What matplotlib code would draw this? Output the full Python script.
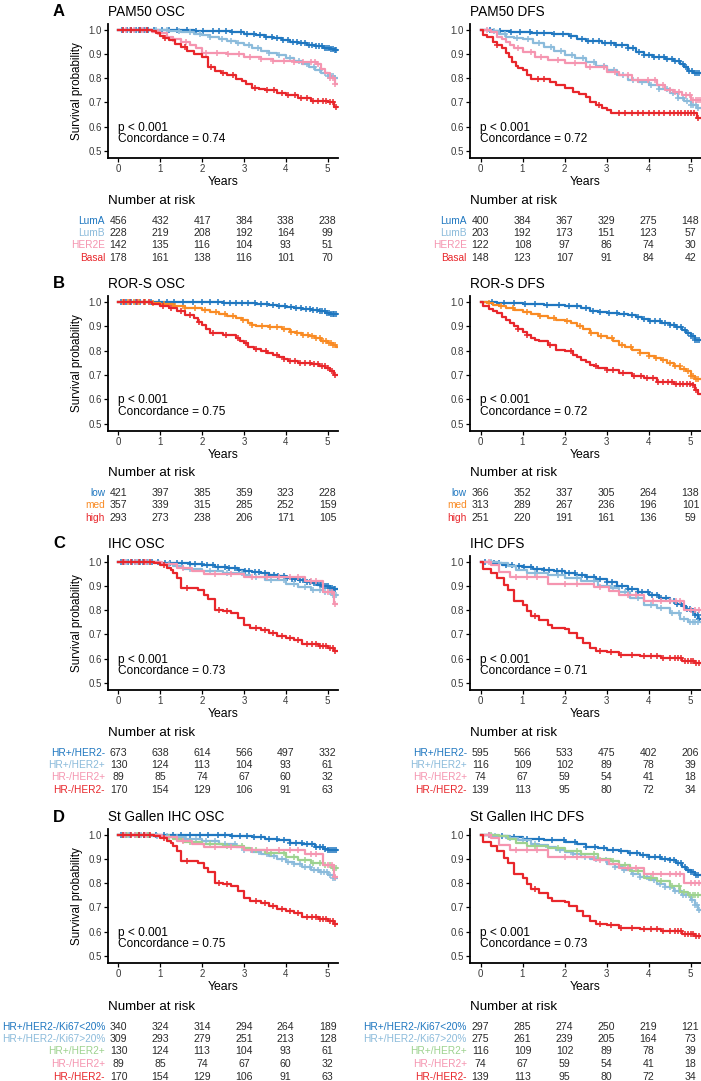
import numpy as np
import matplotlib
matplotlib.use("Agg")
import matplotlib.pyplot as plt
from matplotlib.transforms import blended_transform_factory

plt.rcParams['font.family'] = ['Liberation Sans', 'DejaVu Sans']

W, H = 701, 1081

c_dblue = "#1f77c0"
c_lblue = "#8bbbdb"
c_pink = "#f595b0"
c_red = "#e8262b"
c_orange = "#f98b24"
c_green = "#9dd28f"

years = [0, 1, 2, 3, 4, 5]
yticks = [0.5, 0.6, 0.7, 0.8, 0.9, 1.0]

# ---------------- A: PAM50 ----------------
labels_pam50 = ["LumA", "LumB", "HER2E", "Basal"]
risk_pam50_osc = [[456, 432, 417, 384, 338, 238], [228, 219, 208, 192, 164, 99],
                  [142, 135, 116, 104, 93, 51], [178, 161, 138, 116, 101, 70]]
risk_pam50_dfs = [[400, 384, 367, 329, 275, 148], [203, 192, 173, 151, 123, 57],
                  [122, 108, 97, 86, 74, 30], [148, 123, 107, 91, 84, 42]]

luma_osc_t = [1.8, 2.3, 2.7, 3.0, 3.3, 3.5, 3.7, 3.9, 4.1, 4.3, 4.5, 4.7, 4.9, 5.05, 5.15]
luma_osc_s = [0.998, 0.995, 0.99, 0.985, 0.978, 0.972, 0.965, 0.958, 0.952, 0.945, 0.938, 0.932, 0.926, 0.921, 0.917]
luma_osc_c = [0.08, 0.2, 0.31, 0.42, 0.5, 0.61, 0.7, 0.86, 1.05, 1.22, 1.4, 1.63, 1.85, 2.02, 2.26, 2.41, 2.58, 2.71,
              2.93, 3.08, 3.24, 3.39, 3.52, 3.66, 3.8, 3.93, 4.06, 4.18, 4.27, 4.36, 4.47, 4.55, 4.63, 4.72, 4.8,
              4.86, 4.93, 4.98, 5.04, 5.09, 5.13, 5.17, 5.2]
lumb_osc_t = [1.2, 1.5, 1.8, 2.0, 2.2, 2.4, 2.6, 2.8, 3.0, 3.2, 3.4, 3.6, 3.8, 4.0, 4.2, 4.4, 4.55, 4.7, 4.85, 5.0, 5.15]
lumb_osc_s = [0.997, 0.992, 0.985, 0.979, 0.972, 0.964, 0.956, 0.947, 0.937, 0.925, 0.912, 0.903, 0.895, 0.883,
              0.872, 0.86, 0.848, 0.835, 0.822, 0.81, 0.80]
lumb_osc_c = [0.12, 0.27, 0.4, 0.53, 0.66, 0.9, 1.17, 1.44, 1.71, 1.96, 2.2, 2.47, 2.68, 2.86, 3.12, 3.33, 3.6,
              3.84, 4.1, 4.32, 4.51, 4.68, 4.83, 4.95, 5.02, 5.08, 5.14, 5.19]
her2e_osc_t = [0.8, 1.0, 1.15, 1.3, 1.5, 1.7, 1.85, 2.0, 2.6, 3.0, 3.4, 3.7, 4.2, 4.75, 4.85, 4.95, 5.05, 5.18]
her2e_osc_s = [0.993, 0.986, 0.972, 0.961, 0.951, 0.937, 0.924, 0.906, 0.9, 0.889, 0.879, 0.872, 0.866, 0.858,
               0.84, 0.822, 0.803, 0.775]
her2e_osc_c = [0.18, 0.36, 0.58, 0.95, 1.3, 1.62, 2.1, 2.35, 2.62, 2.88, 3.15, 3.42, 3.7, 3.95, 4.2, 4.42, 4.6,
               4.7, 4.78, 5.06, 5.12, 5.18]
basal_osc_t = [0.8, 0.9, 1.0, 1.1, 1.2, 1.35, 1.5, 1.65, 1.8, 2.0, 2.15, 2.3, 2.45, 2.6, 2.8, 2.95, 3.05, 3.2, 3.35,
               3.5, 3.8, 4.0, 4.3, 4.6, 5.0, 5.15]
basal_osc_s = [0.994, 0.986, 0.975, 0.966, 0.958, 0.944, 0.931, 0.915, 0.899, 0.889, 0.847, 0.831, 0.822, 0.813,
               0.799, 0.789, 0.778, 0.761, 0.755, 0.75, 0.739, 0.729, 0.719, 0.708, 0.70, 0.683]
basal_osc_c = [0.1, 0.3, 0.52, 0.68, 1.11, 1.58, 2.22, 2.5, 2.73, 3.27, 3.55, 3.72, 3.9, 4.05, 4.22, 4.37, 4.52,
               4.66, 4.76, 4.88, 4.97, 5.07, 5.14, 5.2]

luma_dfs_t = [0.3, 0.7, 1.2, 1.7, 2.1, 2.3, 2.5, 2.9, 3.2, 3.5, 3.7, 3.9, 4.1, 4.4, 4.6, 4.75, 4.85, 4.95, 5.05]
luma_dfs_s = [0.997, 0.992, 0.987, 0.982, 0.975, 0.963, 0.953, 0.948, 0.936, 0.924, 0.91, 0.897, 0.887, 0.88,
              0.872, 0.86, 0.848, 0.832, 0.82]
luma_dfs_c = [0.22, 0.47, 0.73, 0.95, 1.18, 1.35, 1.52, 1.76, 1.97, 2.16, 2.42, 2.55, 2.68, 2.82, 2.97, 3.1, 3.22,
              3.38, 3.5, 3.63, 3.77, 3.9, 4.02, 4.13, 4.25, 4.36, 4.45, 4.55, 4.64, 4.73, 4.82, 4.9, 4.97, 5.04,
              5.1, 5.16, 5.21]
lumb_dfs_t = [0.2, 0.45, 0.6, 0.8, 1.0, 1.25, 1.5, 1.75, 2.0, 2.25, 2.5, 2.75, 3.0, 3.25, 3.5, 3.75, 4.0, 4.25,
              4.5, 4.7, 4.85, 5.0, 5.15]
lumb_dfs_s = [0.997, 0.985, 0.972, 0.966, 0.961, 0.946, 0.931, 0.914, 0.897, 0.883, 0.869, 0.852, 0.835, 0.814,
              0.793, 0.783, 0.773, 0.755, 0.738, 0.72, 0.705, 0.69, 0.676]
lumb_dfs_c = [0.33, 0.58, 0.87, 1.12, 1.4, 1.67, 1.92, 2.18, 2.45, 2.7, 2.93, 3.17, 3.4, 3.62, 3.85, 4.05, 4.25,
              4.43, 4.58, 4.7, 4.82, 4.92, 5.0, 5.07, 5.13, 5.19]
her2e_dfs_t = [0.25, 0.4, 0.5, 0.6, 0.7, 0.8, 1.0, 1.3, 1.6, 2.0, 2.5, 3.0, 3.3, 3.6, 4.2, 4.4, 4.6, 4.8, 5.0]
her2e_dfs_s = [0.99, 0.972, 0.962, 0.952, 0.938, 0.924, 0.91, 0.89, 0.876, 0.862, 0.848, 0.828, 0.814, 0.793,
               0.773, 0.752, 0.745, 0.731, 0.711]
her2e_dfs_c = [0.15, 0.9, 1.2, 1.45, 1.85, 2.25, 2.6, 2.95, 3.2, 3.5, 3.75, 3.98, 4.15, 4.35, 4.52, 4.63, 4.72,
               4.9, 4.98, 5.06, 5.12, 5.18, 5.22]
basal_dfs_t = [0.05, 0.15, 0.3, 0.4, 0.5, 0.6, 0.68, 0.75, 0.85, 0.9, 1.0, 1.1, 1.2, 1.65, 1.8, 2.0, 2.2, 2.35,
               2.5, 2.6, 2.75, 2.9, 3.0, 3.1, 5.15]
basal_dfs_s = [0.98, 0.972, 0.952, 0.938, 0.924, 0.904, 0.89, 0.869, 0.85, 0.842, 0.835, 0.814, 0.797, 0.786,
               0.773, 0.759, 0.745, 0.735, 0.724, 0.704, 0.69, 0.676, 0.669, 0.655, 0.635]
basal_dfs_c = [0.4, 1.36, 1.5, 2.82, 3.3, 3.45, 3.6, 3.75, 3.88, 4.0, 4.12, 4.25, 4.38, 4.5, 4.6, 4.7, 4.78, 4.86,
               4.93, 5.0, 5.08, 5.18]

# ---------------- B: ROR-S ----------------
labels_ror = ["low", "med", "high"]
risk_ror_osc = [[421, 397, 385, 359, 323, 228], [357, 339, 315, 285, 252, 159], [293, 273, 238, 206, 171, 105]]
risk_ror_dfs = [[366, 352, 337, 305, 264, 138], [313, 289, 267, 236, 196, 101], [251, 220, 191, 161, 136, 59]]

low_osc_t = [2.5, 2.9, 3.3, 3.6, 3.8, 4.0, 4.2, 4.4, 4.6, 4.8, 4.95, 5.05]
low_osc_s = [0.998, 0.996, 0.992, 0.988, 0.985, 0.979, 0.975, 0.971, 0.966, 0.962, 0.956, 0.952]
low_osc_c = [0.07, 0.19, 0.3, 0.41, 0.52, 0.63, 0.78, 0.97, 1.15, 1.33, 1.55, 1.78, 2.0, 2.19, 2.37, 2.52, 2.66,
             2.8, 2.95, 3.1, 3.26, 3.41, 3.56, 3.7, 3.85, 3.98, 4.12, 4.25, 4.37, 4.48, 4.57, 4.66, 4.74, 4.81,
             4.87, 4.93, 4.98, 5.03, 5.08, 5.12, 5.16, 5.2]
med_osc_t = [0.8, 1.0, 1.3, 1.6, 2.0, 2.2, 2.4, 2.6, 2.8, 2.95, 3.1, 3.2, 3.3, 3.6, 3.9, 4.1, 4.25, 4.4, 4.55,
             4.7, 4.85, 5.0, 5.12, 5.2]
med_osc_s = [0.996, 0.992, 0.982, 0.975, 0.968, 0.96, 0.952, 0.941, 0.933, 0.927, 0.914, 0.905, 0.9, 0.897, 0.889,
             0.879, 0.873, 0.866, 0.859, 0.852, 0.842, 0.832, 0.822, 0.815]
med_osc_c = [0.1, 0.24, 0.37, 0.5, 0.64, 0.83, 1.08, 1.35, 1.6, 1.82, 2.08, 2.34, 2.55, 2.75, 2.98, 3.2, 3.43,
             3.62, 3.8, 3.96, 4.12, 4.28, 4.41, 4.53, 4.64, 4.73, 4.82, 4.9, 4.97, 5.03, 5.09, 5.14, 5.19]
high_osc_t = [0.8, 1.0, 1.2, 1.4, 1.6, 1.8, 1.9, 2.0, 2.1, 2.2, 2.5, 2.8, 2.9, 3.0, 3.1, 3.25, 3.4, 3.55, 3.7,
              3.85, 3.95, 4.05, 4.3, 4.6, 4.8, 4.95, 5.05, 5.15]
high_osc_s = [0.994, 0.985, 0.975, 0.962, 0.948, 0.934, 0.92, 0.907, 0.889, 0.873, 0.866, 0.852, 0.842, 0.832,
              0.815, 0.806, 0.797, 0.79, 0.784, 0.775, 0.765, 0.756, 0.749, 0.745, 0.736, 0.728, 0.718, 0.701]
high_osc_c = [0.13, 0.28, 0.45, 0.6, 0.72, 1.06, 1.25, 1.5, 1.72, 1.93, 2.27, 2.58, 2.85, 3.05, 3.3, 3.52, 3.78,
              3.95, 4.1, 4.22, 4.35, 4.47, 4.58, 4.68, 4.77, 4.86, 4.94, 5.02, 5.1, 5.17]

low_dfs_t = [0.4, 1.0, 1.5, 2.0, 2.4, 2.6, 2.8, 3.0, 3.3, 3.5, 3.7, 3.85, 4.0, 4.3, 4.5, 4.65, 4.8, 4.9, 5.0, 5.1]
low_dfs_s = [0.996, 0.992, 0.989, 0.985, 0.975, 0.964, 0.96, 0.956, 0.952, 0.948, 0.94, 0.93, 0.921, 0.914, 0.907,
             0.898, 0.885, 0.872, 0.859, 0.846]
low_dfs_c = [0.28, 0.55, 0.8, 1.05, 1.3, 1.58, 1.86, 2.1, 2.3, 2.5, 2.68, 2.85, 3.05, 3.25, 3.42, 3.6, 3.76, 3.9,
             4.03, 4.16, 4.28, 4.39, 4.5, 4.6, 4.69, 4.78, 4.86, 4.93, 5.0, 5.06, 5.11, 5.16, 5.21]
med_dfs_t = [0.15, 0.3, 0.45, 0.6, 0.8, 1.0, 1.2, 1.4, 1.6, 1.8, 2.0, 2.15, 2.3, 2.45, 2.6, 2.8, 3.0, 3.15, 3.3,
             3.45, 3.6, 3.8, 4.0, 4.15, 4.3, 4.45, 4.6, 4.75, 4.9, 5.0, 5.1]
med_dfs_s = [0.996, 0.99, 0.983, 0.975, 0.966, 0.958, 0.95, 0.943, 0.934, 0.928, 0.921, 0.912, 0.9, 0.888, 0.873,
             0.862, 0.852, 0.838, 0.825, 0.815, 0.804, 0.792, 0.779, 0.771, 0.763, 0.75, 0.736, 0.726, 0.715,
             0.697, 0.684]
med_dfs_c = [0.2, 0.48, 0.77, 1.1, 1.42, 1.75, 2.05, 2.38, 2.62, 2.88, 3.12, 3.36, 3.58, 3.8, 4.0, 4.18, 4.35,
             4.5, 4.63, 4.74, 4.84, 4.93, 5.0, 5.07, 5.13, 5.19]
high_dfs_t = [0.05, 0.2, 0.3, 0.4, 0.5, 0.6, 0.7, 0.8, 0.9, 1.0, 1.1, 1.2, 1.3, 1.4, 1.6, 1.8, 2.0, 2.2, 2.3, 2.4,
              2.5, 2.6, 2.7, 2.8, 3.0, 3.3, 3.6, 3.9, 4.2, 4.6, 5.05, 5.1, 5.18]
high_dfs_s = [0.982, 0.971, 0.963, 0.955, 0.94, 0.927, 0.913, 0.9, 0.89, 0.879, 0.866, 0.852, 0.845, 0.838, 0.825,
              0.804, 0.797, 0.784, 0.774, 0.763, 0.753, 0.743, 0.736, 0.729, 0.719, 0.708, 0.695, 0.688, 0.67,
              0.665, 0.658, 0.64, 0.623]
high_dfs_c = [0.9, 1.1, 1.65, 2.15, 2.75, 3.0, 3.15, 3.4, 3.65, 3.82, 3.97, 4.1, 4.23, 4.35, 4.46, 4.56, 4.65,
              4.74, 4.83, 4.91, 4.98, 5.06, 5.14]

# ---------------- C: IHC ----------------
labels_ihc = ["HR+/HER2-", "HR+/HER2+", "HR-/HER2+", "HR-/HER2-"]
risk_ihc_osc = [[673, 638, 614, 566, 497, 332], [130, 124, 113, 104, 93, 61],
                [89, 85, 74, 67, 60, 32], [170, 154, 129, 106, 91, 63]]
risk_ihc_dfs = [[595, 566, 533, 475, 402, 206], [116, 109, 102, 89, 78, 39],
                [74, 67, 59, 54, 41, 18], [139, 113, 95, 80, 72, 34]]

pn_osc_t = [1.0, 1.4, 1.7, 2.0, 2.3, 2.6, 2.85, 3.0, 3.2, 3.4, 3.6, 3.8, 4.0, 4.15, 4.3, 4.45, 4.6, 4.75, 4.9,
            5.05, 5.15]
pn_osc_s = [0.998, 0.995, 0.991, 0.986, 0.981, 0.975, 0.968, 0.961, 0.957, 0.953, 0.948, 0.941, 0.934, 0.929,
            0.924, 0.918, 0.913, 0.906, 0.9, 0.893, 0.887]
pn_osc_c = [0.05, 0.14, 0.24, 0.33, 0.4, 0.51, 0.58, 0.69, 0.81, 0.94, 1.12, 1.24, 1.41, 1.53, 1.71, 1.83, 1.99,
            2.11, 2.27, 2.38, 2.54, 2.65, 2.79, 2.89, 3.03, 3.13, 3.27, 3.37, 3.51, 3.6, 3.73, 3.82, 3.95, 4.03,
            4.15, 4.23, 4.34, 4.41, 4.51, 4.57, 4.67, 4.72, 4.81, 4.85, 4.92, 4.96, 5.02, 5.06, 5.11, 5.15, 5.19]
pp_osc_t = [1.0, 1.3, 1.55, 2.0, 2.5, 3.0, 3.15, 3.5, 4.0, 4.3, 4.6, 4.9, 5.1]
pp_osc_s = [0.993, 0.983, 0.972, 0.962, 0.956, 0.948, 0.937, 0.926, 0.91, 0.896, 0.884, 0.875, 0.865]
pp_osc_c = [0.2, 0.45, 0.7, 1.2, 1.7, 2.2, 2.6, 2.95, 3.3, 3.65, 3.95, 4.2, 4.45, 4.65, 4.82, 4.95, 5.05, 5.13, 5.2]
np_osc_t = [1.05, 1.4, 1.75, 2.05, 3.0, 4.45, 4.9, 5.15]
np_osc_s = [0.99, 0.975, 0.962, 0.952, 0.94, 0.923, 0.876, 0.828]
np_osc_c = [0.15, 0.4, 0.65, 1.55, 2.3, 2.7, 3.2, 3.55, 3.85, 4.1, 4.3, 4.6, 4.72, 5.0, 5.1, 5.19]
nn_osc_t = [0.85, 1.0, 1.15, 1.25, 1.3, 1.4, 1.5, 1.9, 2.05, 2.15, 2.3, 2.5, 2.7, 2.85, 3.0, 3.15, 3.4, 3.6, 3.8,
            4.0, 4.2, 4.4, 4.8, 5.0, 5.15]
nn_osc_s = [0.994, 0.989, 0.975, 0.965, 0.955, 0.934, 0.893, 0.886, 0.865, 0.845, 0.803, 0.799, 0.79, 0.769, 0.741,
            0.727, 0.718, 0.707, 0.693, 0.686, 0.679, 0.662, 0.654, 0.645, 0.631]
nn_osc_c = [0.12, 0.3, 0.48, 0.62, 0.75, 1.08, 1.65, 2.4, 2.6, 3.3, 3.5, 3.7, 3.92, 4.1, 4.3, 4.5, 4.62, 4.72,
            4.82, 4.9, 4.97, 5.05, 5.12, 5.19]

pn_dfs_t = [0.3, 0.5, 0.75, 1.0, 1.25, 1.5, 1.75, 2.0, 2.25, 2.5, 2.75, 3.0, 3.25, 3.5, 3.75, 4.0, 4.25, 4.5, 4.65,
            4.8, 4.9, 5.0, 5.1, 5.18]
pn_dfs_s = [0.998, 0.989, 0.984, 0.979, 0.972, 0.966, 0.961, 0.955, 0.946, 0.938, 0.928, 0.916, 0.902, 0.888,
            0.877, 0.865, 0.851, 0.837, 0.827, 0.817, 0.806, 0.796, 0.78, 0.765]
pn_dfs_c = [0.1, 0.31, 0.44, 0.61, 0.74, 0.92, 1.04, 1.21, 1.34, 1.52, 1.64, 1.81, 1.94, 2.11, 2.24, 2.41, 2.54,
            2.71, 2.84, 3.01, 3.12, 3.26, 3.36, 3.51, 3.61, 3.75, 3.85, 3.99, 4.09, 4.21, 4.3, 4.41, 4.5, 4.61,
            4.68, 4.77, 4.84, 4.91, 4.98, 5.05, 5.11, 5.17, 5.21]
pp_dfs_t = [0.45, 0.65, 0.85, 1.1, 1.6, 2.0, 2.4, 2.8, 3.1, 3.3, 3.55, 3.9, 4.2, 4.5, 4.75, 4.95]
pp_dfs_s = [0.995, 0.982, 0.968, 0.955, 0.946, 0.935, 0.922, 0.9, 0.893, 0.875, 0.85, 0.822, 0.81, 0.787, 0.765,
            0.753]
pp_dfs_c = [0.25, 1.3, 1.85, 2.3, 2.7, 3.15, 3.45, 3.75, 4.05, 4.3, 4.55, 4.72, 4.85, 4.99, 5.05, 5.1, 5.17]
np_dfs_t = [0.25, 0.45, 0.7, 1.6, 2.7, 3.05, 3.3, 3.9, 4.85]
np_dfs_s = [0.986, 0.96, 0.939, 0.908, 0.897, 0.88, 0.862, 0.84, 0.80]
np_dfs_c = [0.2, 0.85, 1.1, 1.35, 2.0, 2.3, 2.85, 3.5, 3.7, 4.1, 4.3, 4.5, 4.65, 4.75, 5.0, 5.1, 5.2]
nn_dfs_t = [0.05, 0.25, 0.4, 0.55, 0.65, 0.8, 1.0, 1.1, 1.2, 1.4, 1.6, 1.7, 2.0, 2.1, 2.3, 2.45, 2.6, 2.75, 3.0,
            3.3, 3.8, 4.3, 4.8, 5.1]
nn_dfs_s = [0.971, 0.955, 0.934, 0.906, 0.886, 0.837, 0.824, 0.796, 0.778, 0.761, 0.741, 0.727, 0.723, 0.707,
            0.686, 0.665, 0.645, 0.63, 0.627, 0.617, 0.61, 0.603, 0.59, 0.583]
nn_dfs_c = [1.3, 2.85, 3.1, 3.35, 3.6, 3.9, 4.05, 4.2, 4.35, 4.5, 4.62, 4.7, 4.78, 4.86, 4.93, 5.0, 5.07, 5.14, 5.2]

# ---------------- D: St Gallen IHC ----------------
labels_stg = ["HR+/HER2-/Ki67<20%", "HR+/HER2-/Ki67>20%", "HR+/HER2+", "HR-/HER2+", "HR-/HER2-"]
risk_stg_osc = [[340, 324, 314, 294, 264, 189], [309, 293, 279, 251, 213, 128], [130, 124, 113, 104, 93, 61],
                [89, 85, 74, 67, 60, 32], [170, 154, 129, 106, 91, 63]]
risk_stg_dfs = [[297, 285, 274, 250, 219, 121], [275, 261, 239, 205, 164, 73], [116, 109, 102, 89, 78, 39],
                [74, 67, 59, 54, 41, 18], [139, 113, 95, 80, 72, 34]]

lo_osc_t = [2.7, 3.0, 3.2, 3.5, 3.8, 4.1, 4.4, 4.7, 4.9, 5.0]
lo_osc_s = [0.998, 0.995, 0.992, 0.985, 0.978, 0.967, 0.961, 0.95, 0.944, 0.938]
lo_osc_c = [0.06, 0.17, 0.28, 0.39, 0.5, 0.61, 0.72, 0.9, 1.1, 1.3, 1.5, 1.72, 1.95, 2.15, 2.38, 2.55, 2.72, 2.9,
            3.08, 3.25, 3.42, 3.6, 3.78, 3.95, 4.1, 4.25, 4.38, 4.5, 4.62, 4.72, 4.81, 4.88, 4.94, 5.0, 5.05, 5.1,
            5.15, 5.2]
hi_osc_t = [0.8, 1.2, 1.6, 2.0, 2.4, 2.8, 3.0, 3.2, 3.4, 3.6, 3.8, 4.0, 4.2, 4.4, 4.6, 4.8, 5.0, 5.12]
hi_osc_s = [0.997, 0.992, 0.985, 0.975, 0.964, 0.95, 0.94, 0.93, 0.921, 0.912, 0.9, 0.888, 0.878, 0.868, 0.857,
            0.847, 0.833, 0.824]
hi_osc_c = [0.1, 0.25, 0.4, 0.55, 0.7, 0.92, 1.15, 1.4, 1.62, 1.86, 2.1, 2.32, 2.55, 2.78, 3.0, 3.18, 3.36, 3.55,
            3.72, 3.9, 4.06, 4.2, 4.34, 4.46, 4.57, 4.67, 4.76, 4.84, 4.91, 4.98, 5.05, 5.12, 5.18]

lo_dfs_t = [0.3, 0.7, 1.0, 1.5, 2.0, 2.3, 2.5, 2.8, 3.0, 3.3, 3.5, 3.8, 4.0, 4.3, 4.5, 4.65, 4.8, 4.9, 5.0, 5.1]
lo_dfs_s = [0.997, 0.992, 0.985, 0.978, 0.971, 0.962, 0.952, 0.945, 0.939, 0.932, 0.926, 0.917, 0.909, 0.902,
            0.895, 0.885, 0.868, 0.857, 0.847, 0.833]
lo_dfs_c = [0.2, 0.5, 0.8, 1.1, 1.4, 1.7, 1.98, 2.25, 2.5, 2.72, 2.95, 3.15, 3.35, 3.55, 3.72, 3.88, 4.02, 4.15,
            4.28, 4.4, 4.5, 4.6, 4.7, 4.78, 4.86, 4.93, 5.0, 5.06, 5.12, 5.18]
hi_dfs_t = [0.3, 0.6, 0.9, 1.2, 1.4, 1.6, 1.8, 2.0, 2.2, 2.4, 2.6, 2.8, 3.0, 3.2, 3.4, 3.6, 3.8, 4.0, 4.2, 4.4,
            4.6, 4.8, 5.0, 5.1, 5.18]
hi_dfs_s = [0.997, 0.989, 0.981, 0.964, 0.957, 0.95, 0.94, 0.93, 0.92, 0.909, 0.902, 0.895, 0.882, 0.868, 0.854,
            0.84, 0.826, 0.813, 0.799, 0.785, 0.768, 0.751, 0.73, 0.71, 0.689]
hi_dfs_c = [0.35, 0.7, 1.0, 1.3, 1.6, 1.9, 2.2, 2.48, 2.74, 2.98, 3.2, 3.42, 3.62, 3.8, 3.97, 4.12, 4.27, 4.4,
            4.52, 4.63, 4.73, 4.82, 4.9, 4.97, 5.04, 5.1, 5.16, 5.21]

# ---------------- layout (pixels) ----------------
col_left = [108, 470]
col_width = [230, 231]
row_top = [24, 296, 556, 829]
row_bottom = [158, 431, 690, 963]
risk_top = [201, 473, 733, 1007]
letters = ["A", "B", "C", "D"]
titles = [["PAM50 OSC", "PAM50 DFS"], ["ROR-S OSC", "ROR-S DFS"],
          ["IHC OSC", "IHC DFS"], ["St Gallen IHC OSC", "St Gallen IHC DFS"]]
concord = [["0.74", "0.72"], ["0.75", "0.72"], ["0.73", "0.71"], ["0.75", "0.73"]]
row_labels = [labels_pam50, labels_ror, labels_ihc, labels_stg]
row_colors = [[c_dblue, c_lblue, c_pink, c_red], [c_dblue, c_orange, c_red],
              [c_dblue, c_lblue, c_pink, c_red], [c_dblue, c_lblue, c_green, c_pink, c_red]]
risks = [[risk_pam50_osc, risk_pam50_dfs], [risk_ror_osc, risk_ror_dfs],
         [risk_ihc_osc, risk_ihc_dfs], [risk_stg_osc, risk_stg_dfs]]
curves = [
    [[(luma_osc_t, luma_osc_s, luma_osc_c), (lumb_osc_t, lumb_osc_s, lumb_osc_c),
      (her2e_osc_t, her2e_osc_s, her2e_osc_c), (basal_osc_t, basal_osc_s, basal_osc_c)],
     [(luma_dfs_t, luma_dfs_s, luma_dfs_c), (lumb_dfs_t, lumb_dfs_s, lumb_dfs_c),
      (her2e_dfs_t, her2e_dfs_s, her2e_dfs_c), (basal_dfs_t, basal_dfs_s, basal_dfs_c)]],
    [[(low_osc_t, low_osc_s, low_osc_c), (med_osc_t, med_osc_s, med_osc_c), (high_osc_t, high_osc_s, high_osc_c)],
     [(low_dfs_t, low_dfs_s, low_dfs_c), (med_dfs_t, med_dfs_s, med_dfs_c), (high_dfs_t, high_dfs_s, high_dfs_c)]],
    [[(pn_osc_t, pn_osc_s, pn_osc_c), (pp_osc_t, pp_osc_s, pp_osc_c),
      (np_osc_t, np_osc_s, np_osc_c), (nn_osc_t, nn_osc_s, nn_osc_c)],
     [(pn_dfs_t, pn_dfs_s, pn_dfs_c), (pp_dfs_t, pp_dfs_s, pp_dfs_c),
      (np_dfs_t, np_dfs_s, np_dfs_c), (nn_dfs_t, nn_dfs_s, nn_dfs_c)]],
    [[(lo_osc_t, lo_osc_s, lo_osc_c), (hi_osc_t, hi_osc_s, hi_osc_c), (pp_osc_t, pp_osc_s, pp_osc_c),
      (np_osc_t, np_osc_s, np_osc_c), (nn_osc_t, nn_osc_s, nn_osc_c)],
     [(lo_dfs_t, lo_dfs_s, lo_dfs_c), (hi_dfs_t, hi_dfs_s, hi_dfs_c), (pp_dfs_t, pp_dfs_s, pp_dfs_c),
      (np_dfs_t, np_dfs_s, np_dfs_c), (nn_dfs_t, nn_dfs_s, nn_dfs_c)]],
]


def fy(px):
    return 1 - px / H


def km(ax, t, s, cens, color):
    x = np.r_[0.0, t, 5.22]
    y = np.r_[1.0, s, s[-1]]
    ax.step(x, y, where="post", color=color, lw=1.6, zorder=3)
    c = np.asarray(cens)
    idx = np.searchsorted(x, c, side="right") - 1
    ax.plot(c, y[idx], ls="none", marker="+", ms=5, mew=1.1, color=color, zorder=3)


fig = plt.figure(figsize=(W / 100, H / 100), dpi=100)

for r in range(4):
    for col in range(2):
        left, width = col_left[col], col_width[col]
        ax = fig.add_axes([left / W, fy(row_bottom[r]), width / W, (row_bottom[r] - row_top[r]) / H])
        for (t, s, cens), color in zip(curves[r][col], row_colors[r]):
            km(ax, t, s, cens, color)
        ax.set_xlim(-0.25, 5.25)
        ax.set_ylim(0.47, 1.025)
        ax.set_xticks(years)
        ax.set_yticks(yticks)
        ax.set_yticklabels(["%.1f" % v for v in yticks])
        for sp in ["top", "right"]:
            ax.spines[sp].set_visible(False)
        for sp in ["left", "bottom"]:
            ax.spines[sp].set_linewidth(1.3)
        ax.tick_params(length=3, width=0.9, labelsize=7, pad=1.5, labelcolor="#3a3a3a")
        ax.set_xlabel("Years", fontsize=8.8, labelpad=1.5)
        if col == 0:
            ax.set_ylabel("Survival probability", fontsize=8.4, labelpad=4)
        ax.text(0.0, 0.596, "p < 0.001", fontsize=8.6, va="center", ha="left")
        ax.text(0.0, 0.55, "Concordance = " + concord[r][col], fontsize=8.6, va="center", ha="left")

        # title and panel letter
        fig.text(left / W, fy(row_top[r] - 12), titles[r][col], fontsize=9.8, va="center", ha="left")
        if col == 0:
            fig.text(53 / W, fy(row_top[r] - 12), letters[r], fontsize=12, fontweight="bold",
                     va="center", ha="left")

        # risk table
        tr = blended_transform_factory(ax.transData, fig.transFigure)
        fig.text(left / W, fy(risk_top[r]), "Number at risk", fontsize=9.6, va="center", ha="left")
        for i, (lab, vals) in enumerate(zip(row_labels[r], risks[r][col])):
            yrow = fy(risk_top[r] + 19.5 + 12.5 * i)
            fig.text((left - 3) / W, yrow, lab, fontsize=7.3, color=row_colors[r][i], va="center", ha="right")
            for yr, v in zip(years, vals):
                fig.text(yr, yrow, str(v), fontsize=7.6, color="#2a2a2a", va="center", ha="center",
                         transform=tr)

fig.savefig("out.png", dpi=100)
